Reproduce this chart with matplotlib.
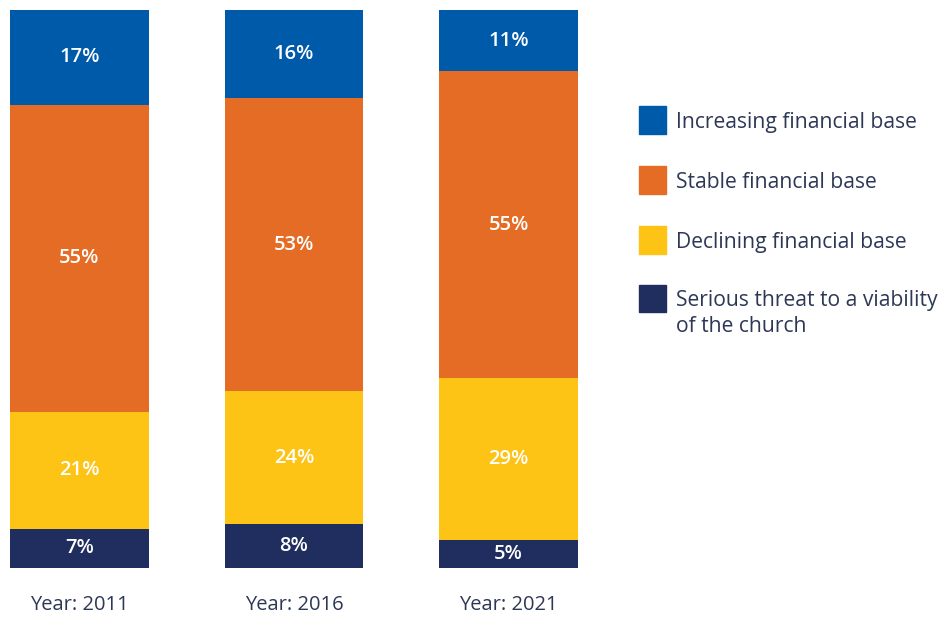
import numpy as np
import matplotlib.pyplot as plt
from matplotlib.patches import Rectangle

plt.rcParams['font.family'] = ['Open Sans', 'DejaVu Sans']

years = ['Year: 2011', 'Year: 2016', 'Year: 2021']
categories = ['Increasing financial base', 'Stable financial base',
              'Declining financial base',
              'Serious threat to a viability\nof the church']
increasing = [17, 16, 11]
stable = [55, 53, 55]
declining = [21, 24, 29]
serious = [7, 8, 5]

colors = ['#005AAA', '#E46C25', '#FDC315', '#202D5F']
text_col = '#2D3857'

W, H = 949, 617
fig = plt.figure(figsize=(W / 100, H / 100), dpi=100)
ax = fig.add_axes([0, 49 / H, 1, 558 / H])

x = np.arange(len(years))
# stack from the bottom: serious, declining, stable, increasing
series = [serious, declining, stable, increasing]
series_cols = colors[::-1]
totals = np.sum(series, axis=0)
bottom = np.zeros(len(years))
for vals, col in zip(series, series_cols):
    share = np.array(vals) / totals * 100
    ax.bar(x, share, width=0.648, bottom=bottom, color=col, linewidth=0)
    for xi, b, s, v in zip(x, bottom, share, vals):
        ax.text(xi, b + s / 2, f'{v}%', ha='center', va='center',
                color='white', fontsize=14.5, fontweight='semibold')
    bottom += share

for xi, lab in zip(x, years):
    ax.text(xi, -6.6, lab, ha='center', va='center', color=text_col,
            fontsize=14.5, clip_on=False)

ax.set_xlim(-79.5 / 214.5, -79.5 / 214.5 + W / 214.5)
ax.set_ylim(0, 100)
ax.axis('off')

# legend drawn by hand so the square lines up with the first text line
leg_y = [120, 180, 240, 298]
for cat, col, yc in zip(categories, colors, leg_y):
    fig.patches.append(Rectangle((639 / W, 1 - (yc + 13.5) / H), 27 / W, 27 / H,
                                 transform=fig.transFigure, color=col))
    for i, line in enumerate(cat.split('\n')):
        fig.text(676 / W, 1 - (yc + 8 + i * 26) / H, line, ha='left',
                 va='baseline', color=text_col, fontsize=15.2)

fig.savefig('out.png', dpi=100)
